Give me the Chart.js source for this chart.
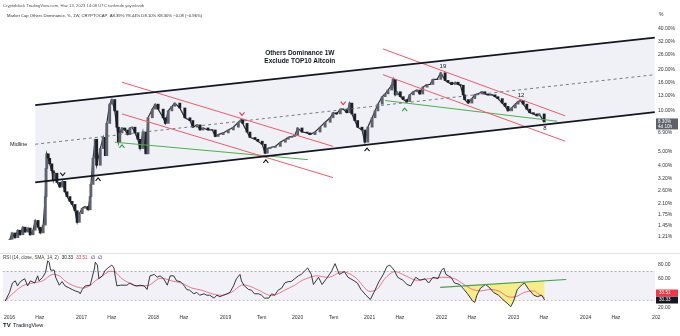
<!DOCTYPE html>
<html>
<head>
<meta charset="utf-8">
<script src="https://cdn.jsdelivr.net/npm/chart.js@4.4.1/dist/chart.umd.min.js"></script>
<style>
  html, body { margin: 0; padding: 0; background: #fff; }
  #wrap { position: relative; width: 680px; height: 336px; overflow: hidden; }
  #main { position: absolute; left: 0; top: 0; }
  #rsi { position: absolute; left: 0; top: 253px; }
</style>
</head>
<body>
<div id="wrap">
  <canvas id="main" width="680" height="253"></canvas>
  <canvas id="rsi" width="680" height="83"></canvas>
</div>
<script>
// weekly closes, Market Cap Others Dominance (%)
const priceDates = [
  2016.04,2016.07,2016.11,2016.15,2016.18,2016.22,2016.25,2016.29,2016.32,2016.36,2016.39,2016.43,2016.46,2016.50,2016.53,2016.54,2016.55,2016.57,2016.59,2016.62,2016.64,2016.66,2016.69,2016.73,2016.77,2016.80,2016.83,2016.87,2016.90,2016.94,2016.97,
  2017.00,2017.04,2017.08,2017.12,2017.15,2017.16,2017.19,2017.22,2017.24,2017.29,2017.33,2017.36,2017.38,2017.42,2017.45,2017.49,2017.52,2017.54,2017.56,2017.59,2017.63,2017.67,2017.70,2017.73,2017.77,2017.81,2017.84,2017.88,2017.92,2017.95,
  2018.01,2018.05,2018.09,2018.16,2018.19,2018.23,2018.28,2018.32,2018.39,2018.46,2018.53,2018.57,2018.63,2018.67,2018.71,2018.78,2018.84,2018.88,2018.92,2018.99,
  2019.06,2019.13,2019.20,2019.24,2019.26,2019.32,2019.36,2019.43,2019.47,2019.53,2019.57,2019.60,2019.64,2019.71,2019.78,2019.85,2019.89,2019.94,2019.98,
  2020.02,2020.08,2020.15,2020.19,2020.26,2020.33,2020.40,2020.47,2020.51,2020.56,2020.61,2020.65,2020.70,2020.74,2020.77,2020.81,2020.85,2020.91,2020.95,2020.99,
  2021.05,2021.09,2021.13,2021.19,2021.23,2021.27,2021.32,2021.34,2021.37,2021.39,2021.44,2021.48,2021.53,2021.57,2021.62,2021.67,2021.71,2021.75,2021.81,2021.85,2021.89,2021.95,
  2022.00,2022.06,2022.10,2022.15,2022.20,2022.24,2022.27,2022.31,2022.33,2022.38,2022.43,2022.47,2022.51,2022.57,2022.61,2022.65,2022.71,2022.75,2022.79,2022.85,2022.89,2022.93,2022.98,
  2023.03,2023.07,2023.10,2023.14,2023.19,2023.23,2023.28,2023.33,2023.36,2023.43
];
const priceClose = [
  1.15,1.28,1.18,1.34,1.24,1.41,1.30,1.39,1.24,1.34,1.58,1.41,1.28,1.46,2.36,3.8,4.85,4.5,4.1,3.65,3.1,3.5,3.0,2.77,3.05,2.56,2.36,2.18,2.07,1.86,1.53,
  1.77,1.94,2.0,1.89,2.36,2.9,4.5,6.2,4.0,5.3,6.4,4.7,8.1,11.2,12.1,10.0,7.6,5.9,6.9,7.5,7.25,6.7,7.5,7.6,6.9,6.2,5.3,7.0,4.85,8.9,
  10.3,11.2,10.3,8.9,8.1,10.0,10.8,11.4,10.5,8.9,8.5,7.6,7.9,7.25,7.5,7.25,7.25,6.5,6.7,6.9,
  7.25,7.6,8.25,8.6,8.1,7.0,6.4,6.2,6.0,5.7,4.9,5.3,5.4,5.5,5.9,6.2,6.4,6.5,6.6,
  7.5,7.0,6.9,6.7,7.0,7.6,8.25,8.9,9.7,9.5,10.3,10.3,9.7,11.4,9.5,8.5,7.6,7.25,5.9,7.6,
  8.9,10.0,11.2,12.7,13.3,14.2,15.4,17.0,13.1,13.8,12.7,12.1,11.7,13.1,13.8,14.2,13.3,14.9,15.6,15.6,17.0,17.0,
  19.0,16.7,16.2,15.6,16.2,15.6,15.4,13.1,12.1,11.4,12.3,13.1,13.3,13.8,13.3,13.1,13.1,12.7,12.3,11.4,10.8,10.0,10.5,
  11.2,11.7,11.9,11.2,10.3,9.7,9.5,9.2,9.5,8.3
];

// RSI (14) and its SMA (14)
const rsiDates = [
  2015.94,2016.00,2016.04,2016.08,2016.11,2016.15,2016.21,2016.25,2016.29,2016.35,2016.39,2016.41,2016.46,2016.50,2016.53,2016.55,2016.57,2016.62,2016.64,2016.69,2016.73,2016.77,2016.83,2016.87,2016.91,2016.97,2016.98,
  2017.01,2017.05,2017.12,2017.18,2017.19,2017.22,2017.24,2017.29,2017.33,2017.38,2017.42,2017.45,2017.47,2017.49,2017.54,2017.59,2017.63,2017.67,2017.73,2017.77,2017.81,2017.87,2017.91,2017.95,
  2018.01,2018.05,2018.09,2018.14,2018.19,2018.23,2018.28,2018.32,2018.37,2018.42,2018.46,2018.50,2018.56,2018.60,2018.64,2018.70,2018.74,2018.78,2018.84,2018.88,2018.92,2018.97,
  2019.02,2019.06,2019.11,2019.15,2019.20,2019.22,2019.26,2019.32,2019.36,2019.40,2019.46,2019.50,2019.54,2019.60,2019.64,2019.68,2019.73,2019.78,2019.82,2019.87,2019.91,2019.96,
  2020.01,2020.05,2020.14,2020.19,2020.22,2020.29,2020.34,2020.40,2020.47,2020.52,2020.58,2020.65,2020.70,2020.77,2020.83,2020.88,2020.95,
  2021.01,2021.06,2021.13,2021.19,2021.24,2021.28,2021.34,2021.39,2021.46,2021.52,2021.57,2021.64,2021.70,2021.77,2021.82,2021.88,2021.95,
  2022.00,2022.03,2022.06,2022.13,2022.18,2022.25,2022.31,2022.36,2022.43,2022.46,2022.49,2022.54,2022.61,2022.67,2022.72,2022.79,2022.85,2022.92,2022.96,
  2023.00,2023.05,2023.12,2023.15,2023.21,2023.28,2023.33,2023.39,2023.43
];
const rsiValues = [
  29,41,54,57,50,56,60,50,57,54,64,57,62,69,85,83,72,72,62,51,56,50,47,45,43,41,39,
  45,50,51,75,83,79,60,64,72,76,79,75,62,50,51,51,51,54,51,50,51,50,45,64,
  66,62,64,60,51,64,64,57,56,51,45,44,39,41,37,39,37,37,33,37,35,37,
  39,41,50,60,66,57,50,45,44,39,39,37,33,33,39,37,44,47,54,56,56,60,
  64,66,75,66,52,62,52,60,70,81,66,70,62,58,54,45,37,
  31,41,56,66,77,79,72,62,58,52,50,62,58,60,54,62,60,
  72,75,66,62,54,52,45,39,29,27,37,47,52,47,41,37,31,25,21,
  29,45,52,54,45,37,35,37,30.33
];
const smaDates = [
  2015.94,2016.04,2016.18,2016.32,2016.46,2016.59,2016.69,2016.77,2016.87,
  2017.01,2017.11,2017.19,2017.29,2017.38,2017.47,2017.56,2017.66,2017.74,2017.84,2017.94,
  2018.07,2018.16,2018.25,2018.39,2018.53,2018.67,2018.81,2018.95,
  2019.08,2019.22,2019.32,2019.46,2019.60,2019.68,2019.82,2019.96,
  2020.07,2020.25,2020.44,2020.62,2020.80,2020.98,
  2021.10,2021.21,2021.34,2021.46,2021.64,2021.82,
  2022.00,2022.18,2022.31,2022.43,2022.54,2022.67,2022.79,2022.92,
  2023.03,2023.15,2023.28,2023.33,2023.43
];
const smaValues = [
  29,39,50,54,57,66,64,57,51,
  47,50,57,64,70,69,60,54,50,50,51,
  60,60,57,54,47,44,39,37,
  41,51,50,44,37,37,44,51,
  58,64,62,70,62,43,
  45,60,70,66,58,60,
  62,60,52,45,43,45,43,35,
  35,41,43,40,33.51
];

// axes
const xTickValues = [2016,2016.42,2017,2017.42,2018,2018.42,2019,2019.5,2020,2020.5,2021,2021.42,2022,2022.42,2023,2023.42,2024,2024.42,2025];
const xTickLabels = ['2016','Haz','2017','Haz','2018','Haz','2019','Tem','2020','Tem','2021','Haz','2022','Haz','2023','Haz','2024','Haz','2025'];
const priceTicks = [40,32,26,20,16,13,10,6.9,5,4,3.2,2.6,2.1,1.75,1.45,1.21];
const rsiTicks = [80,60,20];

// drawn trend lines [date, value]
const channelTop = [[2016.39, 11.0], [2024.96, 34.4]];
const channelBottom = [[2016.39, 3.0], [2024.96, 9.8]];
const midline = [[2016.39, 5.7], [2024.96, 18.4]];
const redUpper1 = [[2017.59, 16.2], [2020.51, 5.5]];
const redLower1 = [[2017.59, 9.5], [2020.51, 3.25]];
const redUpper2 = [[2021.20, 28.4], [2023.72, 9.2]];
const redLower2 = [[2021.20, 18.4], [2023.72, 6.0]];
const green1 = [[2017.49, 5.9], [2020.16, 4.4]];
const green2 = [[2021.23, 11.9], [2023.61, 8.4]];
const rsiGreen = [[2021.98, 48], [2023.73, 59]];
const yellowRange = [2022.30, 2023.43];

// markers and labels
const blackUp = [[2017.26, 3.15], [2019.58, 4.27], [2020.98, 5.2]];
const blackDown = [[2016.77, 3.45]];
const greenUp = [[2017.59, 5.5], [2021.50, 10.2]];
const redDown = [[2019.25, 9.5], [2020.65, 11.4]];
const waveLabels = [['19', 2022.03, 21.3], ['12', 2023.11, 13.1], ['8', 2023.44, 7.5]];
const titleLines = [['Others Dominance 1W', 2020.05, 26.6], ['Exclude TOP10 Altcoin', 2020.05, 23.0]];
const midlineLabel = ['Midline', 2016.04, 5.65];
const header1 = 'Cryptoblock TradingView.com, Haz 13, 2023 14:08 UTC tarihinde yayınlandı';
const header2 = 'Market Cap Others Dominance, %, 1W, CRYPTOCAP  A8.39% Y8.44% D8.10% K8.30% −0.08 (−0.96%)';
const lastClose = 8.30;
const rsiLast = 30.33;
const smaLast = 33.51;

const xMin = 2015.903, xMax = 2024.963;
const FONT = '"Liberation Sans", Arial, sans-serif';

const pts = a => a.map(p => ({ x: p[0], y: p[1] }));
const seg = (data, color, width, extra) => Object.assign({
  type: 'line', data: pts(data), borderColor: color, borderWidth: width,
  pointRadius: 0, fill: false, tension: 0, order: 2
}, extra || {});

function chevron(ctx, x, y, up, color) {
  ctx.beginPath();
  ctx.strokeStyle = color;
  ctx.lineWidth = 1.1;
  const s = up ? 1 : -1;
  ctx.moveTo(x - 2.5, y + 1.5 * s);
  ctx.lineTo(x, y - 1.5 * s);
  ctx.lineTo(x + 2.5, y + 1.5 * s);
  ctx.stroke();
}

const mainDecor = {
  id: 'mainDecor',
  afterDatasetsDraw(chart) {
    const ctx = chart.ctx;
    const X = t => chart.scales.x.getPixelForValue(t);
    const Y = v => chart.scales.y.getPixelForValue(v);
    ctx.save();
    blackUp.forEach(p => chevron(ctx, X(p[0]), Y(p[1]), true, '#131722'));
    blackDown.forEach(p => chevron(ctx, X(p[0]), Y(p[1]), false, '#131722'));
    greenUp.forEach(p => chevron(ctx, X(p[0]), Y(p[1]), true, '#2e9d4a'));
    redDown.forEach(p => chevron(ctx, X(p[0]), Y(p[1]), false, '#e53950'));

    ctx.textBaseline = 'middle';
    ctx.textAlign = 'center';
    ctx.fillStyle = '#131722';
    ctx.font = 'bold 6.5px ' + FONT;
    titleLines.forEach(l => ctx.fillText(l[0], X(l[1]), Y(l[2])));
    ctx.font = '6px ' + FONT;
    waveLabels.forEach(l => ctx.fillText(l[0], X(l[1]), Y(l[2])));
    ctx.textAlign = 'left';
    ctx.font = '5.5px ' + FONT;
    ctx.fillText(midlineLabel[0], X(midlineLabel[1]), Y(midlineLabel[2]));

    // header
    ctx.fillStyle = '#555';
    ctx.font = '4.2px ' + FONT;
    ctx.fillText(header1, 3, 6);
    ctx.fillStyle = '#333';
    ctx.fillText(header2, 7, 16);

    // axis unit and last price
    ctx.fillStyle = '#333';
    ctx.font = '5px ' + FONT;
    ctx.fillText('%', 659, 15);
    const py = Y(lastClose);
    ctx.fillStyle = '#5d606b';
    ctx.fillRect(656, py - 3.5, 22, 11);
    ctx.fillStyle = '#fff';
    ctx.font = '4.6px ' + FONT;
    ctx.fillText(lastClose.toFixed(2) + '%', 658, py);
    ctx.fillText('4d 10h', 658, py + 5);
    ctx.restore();
  }
};

const closeLine = priceDates.map((d, i) => ({ x: d, y: priceClose[i] }));
const bodies = priceDates.map((d, i) => ({ x: d, y: [i ? priceClose[i - 1] : priceClose[i], priceClose[i]] }));

new Chart(document.getElementById('main'), {
  type: 'line',
  data: {
    datasets: [
      seg(channelTop, 'rgba(0,0,0,0)', 0, { fill: { target: 1 }, backgroundColor: '#eff1f6', order: 20 }),
      seg(channelBottom, 'rgba(0,0,0,0)', 0, { order: 21 }),
      {
        type: 'bar', data: bodies, barThickness: 2.2, borderWidth: 0, order: 8,
        backgroundColor: c => (c.dataIndex > 0 && priceClose[c.dataIndex] > priceClose[c.dataIndex - 1]) ? '#5f626c' : '#1c1f26'
      },
      { type: 'line', data: closeLine, borderColor: '#2a2e39', borderWidth: 1.2, pointRadius: 0, tension: 0, fill: false, order: 9 },
      seg(channelTop, '#131722', 1.8),
      seg(channelBottom, '#131722', 1.8),
      seg(midline, '#6a6d78', 0.9, { borderDash: [3, 3] }),
      seg(redUpper1, '#ef5a6a', 1),
      seg(redLower1, '#ef5a6a', 1),
      seg(redUpper2, '#ef5a6a', 1),
      seg(redLower2, '#ef5a6a', 1),
      seg(green1, '#4caf50', 1),
      seg(green2, '#4caf50', 1)
    ]
  },
  options: {
    responsive: false, animation: false, devicePixelRatio: 1, events: [],
    layout: { padding: 0 },
    plugins: { legend: { display: false }, tooltip: { enabled: false } },
    scales: {
      x: { type: 'linear', min: xMin, max: xMax, offset: false, display: false },
      y: {
        type: 'logarithmic', position: 'right', min: 1.01, max: 58.5,
        grid: { display: false, drawTicks: false }, border: { display: false },
        afterBuildTicks: s => { s.ticks = priceTicks.map(v => ({ value: v })); },
        afterFit: s => { s.width = 25; },
        ticks: { autoSkip: false, padding: 3, color: '#333', font: { size: 5, family: FONT },
          callback: v => Number(v).toFixed(2) + '%' }
      }
    }
  },
  plugins: [mainDecor]
});

// RSI pane
const greenAt = t => rsiGreen[0][1] + (rsiGreen[1][1] - rsiGreen[0][1]) * (t - rsiGreen[0][0]) / (rsiGreen[1][0] - rsiGreen[0][0]);
const yellowIdx = rsiDates.map((t, i) => i).filter(i => rsiDates[i] >= yellowRange[0] && rsiDates[i] <= yellowRange[1]);
const yellowRsi = yellowIdx.map(i => ({ x: rsiDates[i], y: rsiValues[i] }));
const yellowTop = yellowIdx.map(i => ({ x: rsiDates[i], y: greenAt(rsiDates[i]) }));

const rsiDecor = {
  id: 'rsiDecor',
  afterDraw(chart) {
    const ctx = chart.ctx;
    const Y = v => chart.scales.y.getPixelForValue(v);
    ctx.save();
    ctx.strokeStyle = '#e0e3eb';
    ctx.lineWidth = 1;
    ctx.beginPath(); ctx.moveTo(0, 0.5); ctx.lineTo(680, 0.5); ctx.stroke();

    ctx.textBaseline = 'middle';
    ctx.textAlign = 'left';
    ctx.font = '4.6px ' + FONT;
    let x = 3;
    const parts = [['RSI (14, close, SMA, 14, 2)', '#444'], [rsiLast.toFixed(2), '#131722'], [smaLast.toFixed(2), '#e53950'], ['∅', '#131722'], ['∅', '#131722']];
    parts.forEach(p => { ctx.fillStyle = p[1]; ctx.fillText(p[0], x, 5); x += ctx.measureText(p[0]).width + 3; });

    const yb = Y(rsiLast);
    ctx.fillStyle = '#131722';
    ctx.fillRect(656, yb - 3.5, 22, 7);
    ctx.fillStyle = '#f23645';
    ctx.fillRect(656, yb - 10.5, 22, 7);
    ctx.fillStyle = '#fff';
    ctx.fillText(rsiLast.toFixed(2), 659, yb);
    ctx.fillText(smaLast.toFixed(2), 659, yb - 7);

    // cut the last date label at the price axis, as in the terminal
    ctx.fillStyle = '#fff';
    ctx.fillRect(660, chart.chartArea.bottom + 1, 20, 12);

    // logo
    ctx.fillStyle = '#131722';
    ctx.font = 'bold 6px ' + FONT;
    ctx.fillText('TV', 3, 72);
    ctx.font = '5.5px ' + FONT;
    ctx.fillText('TradingView', 13, 72);
    ctx.restore();
  }
};

new Chart(document.getElementById('rsi'), {
  type: 'line',
  data: {
    datasets: [
      seg([[xMin, 70], [xMax, 70]], '#9a9ea8', 0.8, { borderDash: [2, 2], fill: { target: 1 }, backgroundColor: 'rgba(232,232,242,0.6)', order: 20 }),
      seg([[xMin, 30], [xMax, 30]], '#9a9ea8', 0.8, { borderDash: [2, 2], order: 21 }),
      { type: 'line', data: yellowRsi, borderWidth: 0, borderColor: 'rgba(0,0,0,0)', pointRadius: 0, tension: 0,
        fill: { target: 3 }, backgroundColor: 'rgba(250,234,110,0.8)', order: 10 },
      { type: 'line', data: yellowTop, borderWidth: 0, borderColor: 'rgba(0,0,0,0)', pointRadius: 0, tension: 0, fill: false, order: 11 },
      seg(rsiGreen, '#43a047', 1.1, { order: 1 }),
      { type: 'line', data: smaDates.map((d, i) => ({ x: d, y: smaValues[i] })), borderColor: '#ea6a78', borderWidth: 0.9,
        pointRadius: 0, tension: 0.3, fill: false, order: 3 },
      { type: 'line', data: rsiDates.map((d, i) => ({ x: d, y: rsiValues[i] })), borderColor: '#1e222d', borderWidth: 0.9,
        pointRadius: 0, tension: 0, fill: false, order: 2 }
    ]
  },
  options: {
    responsive: false, animation: false, devicePixelRatio: 1, events: [],
    layout: { padding: { top: 0, left: 0, right: 0, bottom: 13 } },
    plugins: { legend: { display: false }, tooltip: { enabled: false } },
    scales: {
      x: {
        type: 'linear', min: xMin, max: xMax, offset: false,
        grid: { display: false, drawTicks: false }, border: { display: false },
        afterBuildTicks: s => { s.ticks = xTickValues.map(v => ({ value: v })); },
        afterFit: s => { s.height = 12; },
        ticks: { autoSkip: false, maxRotation: 0, padding: 4, color: '#333', font: { size: 5, family: FONT },
          callback: v => xTickLabels[xTickValues.indexOf(v)] }
      },
      y: {
        type: 'linear', position: 'right', min: 15, max: 87.5,
        grid: { display: false, drawTicks: false }, border: { display: false },
        afterBuildTicks: s => { s.ticks = rsiTicks.map(v => ({ value: v })); },
        afterFit: s => { s.width = 25; },
        ticks: { autoSkip: false, padding: 3, color: '#333', font: { size: 5, family: FONT },
          callback: v => Number(v).toFixed(2) }
      }
    }
  },
  plugins: [rsiDecor]
});
</script>
</body>
</html>
